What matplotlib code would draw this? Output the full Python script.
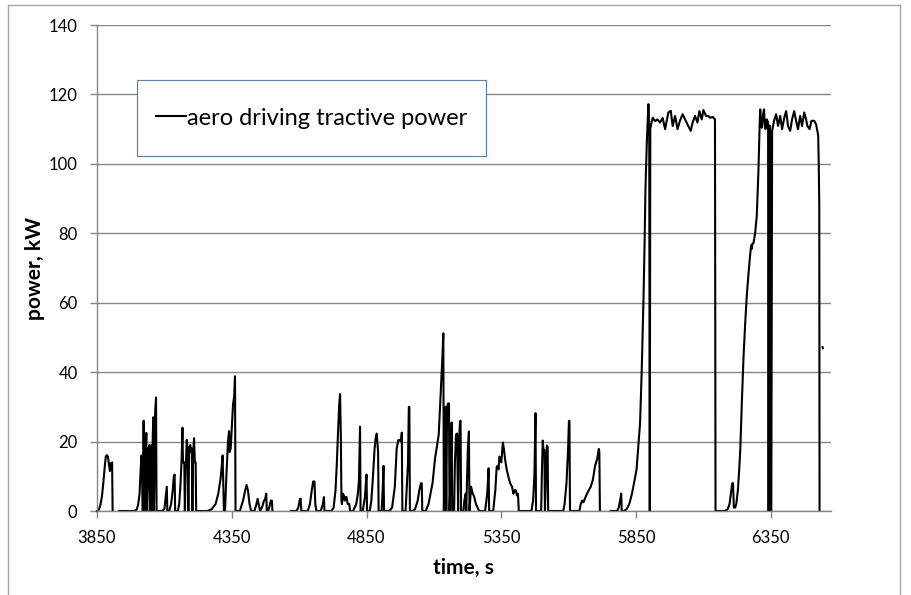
import numpy as np
import matplotlib
matplotlib.use("Agg")
import matplotlib.pyplot as plt
from matplotlib.lines import Line2D
from matplotlib.patches import Rectangle

# ---- data (time in s, power in kW); blanks between segments ----
time_a = [3850, 3856, 3862, 3868, 3874, 3879, 3883, 3887, 3891, 3895, 3898, 3901, 3904, 3906, 3908]
power_a = [0, 0.3, 1.5, 4, 8.5, 13, 15.8, 16.1, 15.5, 13, 11.5, 13.8, 12.5, 14, 0]

time_b = [3932, 3990, 3998, 4003, 4008, 4012, 4015, 4017, 4019, 4021, 4023, 4025, 4028, 4031, 4033, 4035,
          4038, 4041, 4044, 4046, 4048, 4050, 4052, 4054, 4057, 4059, 4061, 4063, 4066, 4069, 4071,
          4090, 4100, 4105, 4109, 4111, 4118, 4125, 4131, 4135, 4138, 4140,
          4150, 4155, 4160, 4164, 4167, 4169, 4174, 4176, 4179, 4183, 4186, 4189, 4192, 4196, 4199,
          4202, 4204, 4206, 4210, 4213, 4216, 4218,
          4260, 4275, 4290, 4300, 4308, 4313, 4316, 4318, 4321, 4325, 4330, 4336, 4340, 4342, 4346,
          4351, 4355, 4359, 4362, 4364,
          4380, 4392, 4400, 4405, 4410, 4416, 4422, 4434, 4440, 4446, 4450, 4455, 4462, 4470, 4474,
          4478, 4480, 4485, 4489, 4495, 4499, 4501]
power_b = [0, 0, 0.5, 2, 5, 12, 16, 14, 0, 0, 26, 0, 2, 18, 22.5, 0,
           8, 18, 19, 0, 5, 18, 19, 0, 22, 27, 0, 10, 29, 32.7, 0,
           0, 0.5, 4, 7, 0, 0, 2, 6, 10, 10.5, 0,
           0, 2, 8, 15, 24, 14, 14, 0, 12, 20.5, 18, 0, 18, 19, 17,
           18, 0, 15, 21, 14, 14, 0,
           0, 0.5, 2, 5, 9, 13, 16, 10, 0, 0, 10, 20, 23, 17, 18,
           25, 31, 33, 38.8, 0,
           0, 3, 6, 7.5, 6, 2, 0, 0, 1.5, 3.5, 2, 0, 1, 3, 3.5,
           5, 0, 0, 1, 3, 3, 0]

time_c = [4569, 4590, 4597, 4603, 4606, 4608, 4632, 4640, 4647, 4652, 4657, 4660, 4664, 4680, 4688, 4692, 4694,
          4720, 4728, 4735, 4740, 4745, 4749, 4752, 4755, 4757, 4759, 4762, 4766, 4769, 4772, 4776, 4780, 4786, 4789,
          4800, 4812, 4818, 4822, 4826, 4828, 4836, 4844, 4850, 4852, 4862, 4868, 4874, 4880, 4884, 4888, 4891,
          4893, 4895, 4906, 4910, 4913, 4915,
          4935, 4945, 4955, 4962, 4968, 4973, 4978, 4981, 4983, 4995, 5000, 5004, 5007, 5009, 5011, 5022, 5030,
          5040, 5046, 5052, 5055, 5057,
          5070, 5080, 5095, 5104, 5112, 5118, 5123, 5128, 5132, 5135, 5137, 5140, 5143, 5146, 5149, 5153, 5156,
          5158, 5162, 5166, 5168, 5175, 5178, 5182, 5186, 5190, 5193, 5197, 5199, 5201,
          5210, 5213, 5218, 5220, 5226, 5230, 5232, 5238, 5244, 5250, 5256, 5262, 5268, 5290, 5298, 5303, 5305,
          5320, 5328, 5333, 5336, 5340, 5343, 5350, 5356, 5360, 5364, 5370, 5376, 5383, 5390, 5395, 5400, 5404,
          5408, 5412, 5415,
          5440, 5462, 5468, 5473, 5477, 5479, 5498, 5501, 5504, 5506, 5510, 5512, 5516, 5519, 5522, 5524, 5580,
          5585, 5592, 5598, 5601, 5603, 5605, 5640, 5645, 5650, 5655, 5660, 5668, 5675, 5682, 5690, 5698, 5706,
          5712, 5714, 5716]
power_c = [0, 0, 1, 3.5, 3.5, 0, 0, 2, 6, 8.5, 8.5, 2, 0, 0, 2, 4, 0,
           0, 1, 6, 14, 24, 31, 33.7, 20, 3, 2, 5, 4.5, 3, 4, 4, 2, 2, 0,
           0, 2, 5, 9, 24.3, 0, 0, 4, 10.5, 0, 0, 3, 10, 18, 21, 22.3, 19,
           17, 0, 0, 6, 13, 0,
           0, 1, 7, 18, 20.4, 20.5, 20, 22.6, 0, 0, 8, 14, 30, 30, 0, 0, 0.5,
           3, 6, 8, 8, 0,
           0, 2, 8, 15, 19, 22, 30, 38, 45, 51.2, 0, 15, 30, 0, 30, 31, 31,
           0, 10, 25.5, 0, 0, 14, 22, 22.3, 0, 20, 25.8, 26, 0,
           0, 3, 5, 0, 18, 22.9, 0, 7, 5, 4, 2, 1, 0, 0, 5, 12.3, 0,
           0, 6, 12.7, 13, 12, 15.7, 14, 19.7, 17.8, 15, 12, 10, 8, 7, 5, 6, 6,
           4.5, 5, 0,
           0, 0, 3, 10, 28.2, 0, 0, 12, 20.3, 18, 17.5, 0, 10, 18.9, 18.5, 0, 0,
           2, 8, 18, 25.8, 26, 0, 0, 2, 3, 2.5, 3.5, 5, 6, 7, 9, 13, 15,
           17.9, 17, 0]

time_d = [5756, 5780, 5786, 5791, 5795, 5797, 5805, 5815, 5825, 5835, 5845, 5852, 5858, 5865, 5871, 5878,
          5882, 5885, 5890, 5896, 5899, 5901, 5903,
          5905, 5912, 5921, 5929, 5939, 5949, 5958, 5970, 5979, 5986, 5995, 6004, 6013, 6023, 6032, 6044,
          6053, 6060, 6069, 6078, 6085, 6094, 6100, 6110, 6118, 6125, 6135, 6143, 6145,
          6180, 6190, 6197, 6202, 6207, 6210, 6213, 6218, 6222, 6228, 6233, 6237, 6243, 6249, 6255, 6261,
          6267, 6273, 6277, 6279, 6282, 6286, 6292, 6298, 6304, 6309, 6311, 6314, 6317, 6321, 6325, 6328,
          6331, 6335, 6340, 6342, 6344, 6347, 6349, 6352, 6355,
          6362, 6370, 6377, 6385, 6392, 6400, 6407, 6414, 6422, 6429, 6437, 6444, 6451, 6459, 6466, 6474,
          6481, 6486, 6494, 6501, 6511, 6518, 6523, 6526, 6528, 6530, 6531]
power_d = [0, 0, 1, 3, 5, 0, 0, 0.5, 2, 5, 9, 12, 18, 25.3, 40, 62,
           78, 92.6, 106, 117.2, 111, 0, 110,
           111, 113.3, 112.3, 112.8, 111.9, 113.2, 110.0, 114.8, 115.3, 110.9, 113.8, 110.0, 112.4, 114.3, 112.8, 110.9,
           109.5, 111.9, 113.8, 111.9, 115.2, 112.8, 115.5, 113.8, 113.8, 113.3, 113.5, 112.8, 0,
           0, 0.5, 2, 5, 8, 8, 1, 1, 2, 6, 12, 18, 32, 44.5, 54, 62,
           68, 73.4, 76.5, 75.5, 77, 77.2, 80.1, 84.9, 97.4, 112, 115.7, 111, 110.4, 114, 115.7, 111,
           110, 112.8, 112, 0, 111, 111, 0, 0, 109.5,
           112.4, 114.3, 110.9, 113.8, 110.0, 113.3, 115.2, 110.9, 109.5, 112.8, 115.2, 112.4, 110.0, 113.8, 110.9, 114.8,
           112.8, 110.9, 110.0, 112.4, 112.4, 111.4, 109.5, 108, 100, 88, 0]

time_e = [6542, 6543]
power_e = [47.2, 46.9]

series_label = "aero driving tractive power"
x_ticks = [3850, 4350, 4850, 5350, 5850, 6350]
y_ticks = [0, 20, 40, 60, 80, 100, 120, 140]

# join the segments, blanks become gaps in the line
t_all, p_all = [], []
for t, p in [(time_a, power_a), (time_b, power_b), (time_c, power_c), (time_d, power_d), (time_e, power_e)]:
    t_all += list(t) + [np.nan]
    p_all += list(p) + [np.nan]

plt.rcParams['font.family'] = ['Lato', 'DejaVu Sans']
grey = '#868686'

fig = plt.figure(figsize=(9.12, 5.95), dpi=100)
W, H = 912, 595
ax = fig.add_axes([97 / W, 1 - 511 / H, (830.6 - 97) / W, (511 - 25) / H])

ax.plot(t_all, p_all, color='black', lw=1.5, solid_joinstyle='round', clip_on=False, label=series_label)

ax.set_xlim(3850, 6572)
ax.set_ylim(0, 140)
ax.set_xticks(x_ticks)
ax.set_yticks(y_ticks)
ax.grid(axis='y', color=grey, lw=1)
ax.set_axisbelow(True)
for s in ['top', 'right']:
    ax.spines[s].set_visible(False)
for s in ['left', 'bottom']:
    ax.spines[s].set_color(grey)
    ax.spines[s].set_linewidth(1)
ax.tick_params(axis='y', length=5, width=1, color=grey, pad=9, labelsize=12)
ax.tick_params(axis='x', length=5, width=1, color=grey, pad=9, labelsize=12)

ax.set_xlabel('time, s', fontsize=15, fontweight='bold', va='center')
ax.xaxis.set_label_coords(0.5, (511 - 568) / 486)
ax.set_ylabel('power, kW', fontsize=15, fontweight='bold', va='center')
ax.yaxis.set_label_coords((35 - 97) / 733.6, 0.5)

# legend box (Excel style, thin blue frame)
x0, x1 = (136.7 - 97) / 733.6, (486 - 97) / 733.6
y0, y1 = (511 - 156.4) / 486, (511 - 79.7) / 486
ax.add_patch(Rectangle((x0, y0), x1 - x0, y1 - y0, transform=ax.transAxes,
                       facecolor='white', edgecolor='#4F81BD', lw=0.8, zorder=5))
leg = ax.legend(loc='center left', bbox_to_anchor=(x0, (y0 + y1) / 2), frameon=False,
                fontsize=17, handlelength=1.3, handletextpad=0.05, borderaxespad=0, borderpad=0.8)
leg.set_zorder(6)

# chart area border
for xs, ys in [([8 / W, 900 / W], [1 - 5 / H, 1 - 5 / H]),
               ([8 / W, 8 / W], [0, 1 - 5 / H]),
               ([900 / W, 900 / W], [0, 1 - 5 / H])]:
    fig.add_artist(Line2D(xs, ys, color='#A6A6A6', lw=1))

fig.savefig('out.png', dpi=100)
